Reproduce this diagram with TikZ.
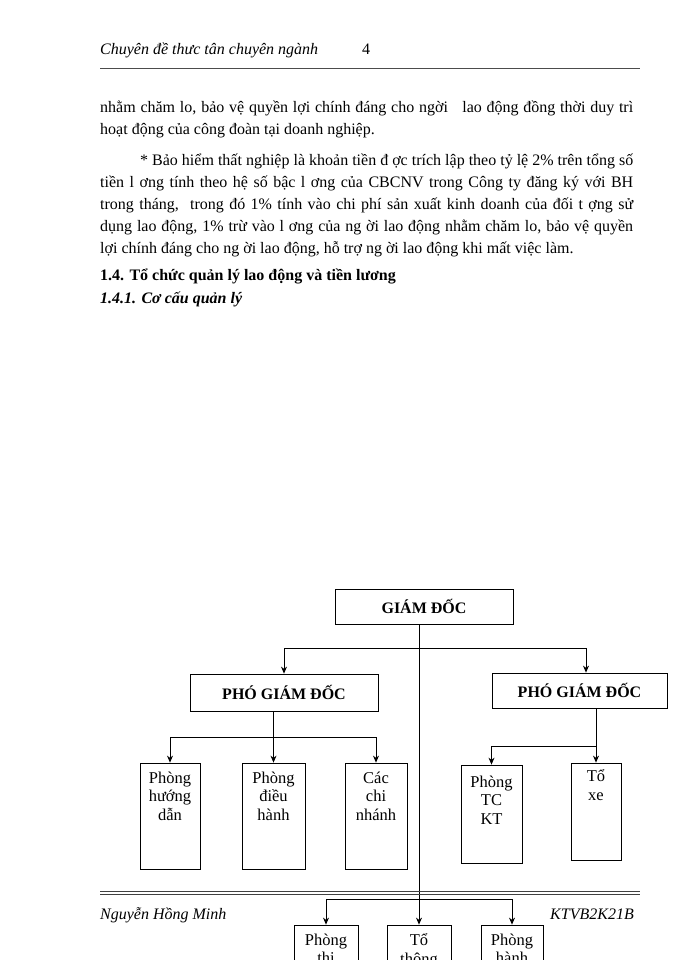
\documentclass[tikz,border=0pt]{standalone}
\usepackage{fontspec}
\setmainfont{Liberation Serif}
\usetikzlibrary{arrows.meta}
\begin{document}
\begin{tikzpicture}[x=1pt,y=-1pt,
  box/.style={draw, line width=0.8pt, inner sep=0pt},
  conn/.style={line width=0.8pt},
  arr/.style={conn,-{Stealth[length=7pt,width=6pt]}},
  txt/.style={anchor=base west, inner sep=0pt, font=\fontsize{16}{22}\selectfont},
  itxt/.style={txt, font=\fontsize{16}{22}\selectfont\itshape},
  headbox/.style={box, font=\fontsize{16}{18}\selectfont\bfseries},
  unitbox/.style={box, minimum width=#1},
  boxlabel/.style={anchor=north, align=center, inner sep=0pt, yshift=-9pt, font=\fontsize{16.5}{18.5}\selectfont}
]
\useasboundingbox (0,0) rectangle (700,960);
\clip (0,0) rectangle (700,960);

% page header
\node[itxt] (hdr) at (100,55) {Chuyên đề thưc tân chuyên ngành};
\node[txt] (pgno) at (362,55) {4};
\draw[line width=0.6pt, black!70] (100,68) -- (640,68);

% body text
\node[txt] (l1) at (100,113) {\makebox[533pt][s]{nhằm chăm lo, bảo vệ quyền lợi chính đáng cho ngời \ \ lao động đồng thời duy trì}};
\node[txt] (l2) at (100,135) {hoạt động của công đoàn tại doanh nghiệp.};
\node[txt] (l3) at (140,165) {\makebox[493pt][s]{* Bảo hiểm thất nghiệp là khoản tiền đ ợc trích lập theo tỷ lệ 2\% trên tổng số}};
\node[txt] (l4) at (100,187) {\makebox[533pt][s]{tiền l ơng tính theo hệ số bậc l ơng của CBCNV trong Công ty đăng ký với BH}};
\node[txt] (l5) at (100,209) {\makebox[533pt][s]{trong tháng, \ trong đó 1\% tính vào chi phí sản xuất kinh doanh của đối t ợng sử}};
\node[txt] (l6) at (100,231) {\makebox[533pt][s]{dụng lao động, 1\% trừ vào l ơng của ng ời lao động nhằm chăm lo, bảo vệ quyền}};
\node[txt] (l7) at (100,253) {lợi chính đáng cho ng ời lao động, hỗ trợ ng ời lao động khi mất việc làm.};
\node[txt, font=\fontsize{16}{22}\selectfont\bfseries] (h1) at (100,280) {1.4. Tổ chức quản lý lao động và tiền lương};
\node[txt, font=\fontsize{16}{22}\selectfont\bfseries\itshape] (h2) at (100,303) {1.4.1. Cơ cấu quản lý};

% org chart
\node[headbox, minimum width=178pt, minimum height=35pt] (gd) at (424,606.5) {GIÁM ĐỐC};
\node[headbox, minimum width=188pt, minimum height=37pt] (pgd1) at (284,692.5) {PHÓ GIÁM ĐỐC};
\node[headbox, minimum width=175pt, minimum height=35pt] (pgd2) at (579.5,690.5) {PHÓ GIÁM ĐỐC};

\node[unitbox=60pt, minimum height=106pt, label={[boxlabel]north:{Phòng\\hướng\\dẫn}}] (huongdan) at (170,816) {};
\node[unitbox=63pt, minimum height=106pt, label={[boxlabel]north:{Phòng\\điều\\hành}}] (dieuhanh) at (273.5,816) {};
\node[unitbox=62pt, minimum height=106pt, label={[boxlabel]north:{Các\\chi\\nhánh}}] (chinhanh) at (376,816) {};
\node[unitbox=61pt, minimum height=98pt, label={[boxlabel, yshift=-2pt]north:{Phòng\\TC\\KT}}] (tckt) at (491.5,814) {};
\node[unitbox=50pt, minimum height=97pt, label={[boxlabel, yshift=2pt]north:{Tổ\\xe}}] (toxe) at (596,811.5) {};

\node[unitbox=64pt, minimum height=100pt, label={[boxlabel]north:{Phòng\\thị}}] (thi) at (326,975) {};
\node[unitbox=64pt, minimum height=100pt, label={[boxlabel]north:{Tổ\\thông}}] (thong) at (419,975) {};
\node[unitbox=62pt, minimum height=100pt, label={[boxlabel]north:{Phòng\\hành}}] (hanh) at (512,975) {};

% connectors
\draw[arr] (thong.north |- gd.south) -- (thong.north);
\coordinate (j1) at (419,648);
\draw[arr] (j1) -| (pgd1.north);
\draw[arr] (j1) -| ([xshift=6.5pt]pgd2.north);

\draw[arr] (pgd1.south -| dieuhanh.north) -- (dieuhanh.north);
\coordinate (j2) at (273.5,737);
\draw[arr] (j2) -| (huongdan.north);
\draw[arr] (j2) -| (chinhanh.north);

\draw[arr] (pgd2.south -| toxe.north) -- (toxe.north);
\coordinate (j3) at (596,746);
\draw[arr] (j3) -| (tckt.north);

\coordinate (j4) at (419,899);
\draw[arr] (j4) -| (thi.north);
\draw[arr] (j4) -| (hanh.north);

% page footer
\draw[line width=0.7pt, black!75] (100,891) -- (640,891);
\draw[line width=0.7pt, black!75] (100,894.5) -- (640,894.5);
\node[itxt] (author) at (100,919) {Nguyễn Hồng Minh};
\node[itxt, anchor=base east] (code) at (634,919) {KTVB2K21B};
\end{tikzpicture}
\end{document}
